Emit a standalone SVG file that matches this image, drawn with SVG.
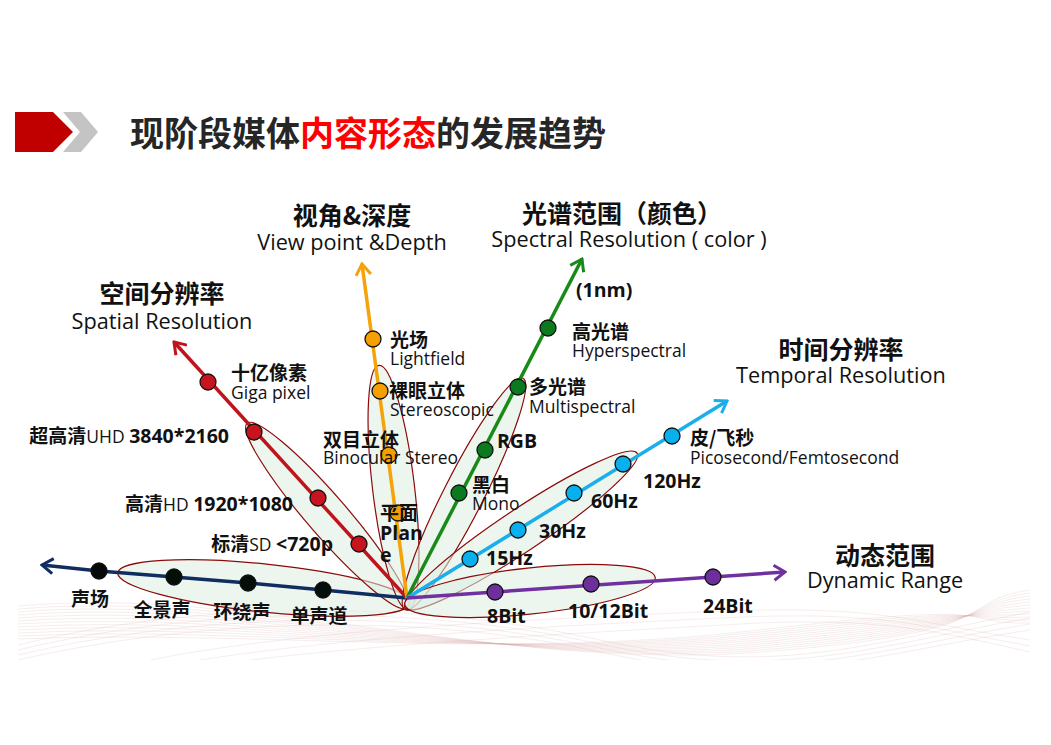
<svg xmlns="http://www.w3.org/2000/svg" width="1051" height="745" viewBox="0 0 1051 745">
<style>
.ax{fill:none;stroke-width:3.5;stroke-linecap:butt}
.ell{fill:#dcefe2;fill-opacity:0.55;stroke:#8b0a0a;stroke-width:1.2}
.pt{stroke:#111;stroke-width:1.3}
.zh{font-family:"Noto Sans CJK SC",sans-serif;font-weight:700;fill:#111}
.en{font-family:"Open Sans","Noto Sans CJK SC",sans-serif;fill:#111}
.b{font-weight:700;font-size:19.5px}
.r{font-weight:400;font-size:17.5px}
.lz{font-size:19px}
.le{font-size:17.5px}
.tz{font-size:25px}
.te{font-size:21.7px}
.wave{fill:none;stroke:#d9a3a3;stroke-width:0.5;stroke-opacity:0.4}
</style>
<defs>
<clipPath id="bgclip"><rect x="18" y="588" width="1012" height="72"/></clipPath>
<marker id="m-navy" viewBox="-14 -10 16 20" refX="0" refY="0" markerWidth="16" markerHeight="20" markerUnits="userSpaceOnUse" orient="auto"><path d="M-11,-7.5 L0,0 L-11,7.5" fill="none" stroke="#0f2d5e" stroke-width="3"/></marker>
<marker id="m-red" viewBox="-14 -10 16 20" refX="0" refY="0" markerWidth="16" markerHeight="20" markerUnits="userSpaceOnUse" orient="auto"><path d="M-11,-7.5 L0,0 L-11,7.5" fill="none" stroke="#c0141c" stroke-width="3"/></marker>
<marker id="m-orange" viewBox="-14 -10 16 20" refX="0" refY="0" markerWidth="16" markerHeight="20" markerUnits="userSpaceOnUse" orient="auto"><path d="M-11,-7.5 L0,0 L-11,7.5" fill="none" stroke="#f5a30a" stroke-width="3"/></marker>
<marker id="m-green" viewBox="-14 -10 16 20" refX="0" refY="0" markerWidth="16" markerHeight="20" markerUnits="userSpaceOnUse" orient="auto"><path d="M-11,-7.5 L0,0 L-11,7.5" fill="none" stroke="#188a18" stroke-width="3"/></marker>
<marker id="m-cyan" viewBox="-14 -10 16 20" refX="0" refY="0" markerWidth="16" markerHeight="20" markerUnits="userSpaceOnUse" orient="auto"><path d="M-11,-7.5 L0,0 L-11,7.5" fill="none" stroke="#1aaeea" stroke-width="3"/></marker>
<marker id="m-purple" viewBox="-14 -10 16 20" refX="0" refY="0" markerWidth="16" markerHeight="20" markerUnits="userSpaceOnUse" orient="auto"><path d="M-11,-7.5 L0,0 L-11,7.5" fill="none" stroke="#7030a0" stroke-width="3"/></marker>
</defs>
<rect width="1051" height="745" fill="#ffffff"/>

<!-- background waves -->
<g id="background" clip-path="url(#bgclip)">
<path class="wave" d="M18,606 C250,585 500,672 760,652 S950,602 1030,590"/>
<path class="wave" d="M18,609 C250,589 500,671 760,650 S950,604 1030,593"/>
<path class="wave" d="M18,612 C250,593 500,670 760,648 S950,606 1030,596"/>
<path class="wave" d="M18,615 C250,597 500,669 760,646 S950,608 1030,599"/>
<path class="wave" d="M18,618 C250,601 500,668 760,644 S950,610 1030,602"/>
<path class="wave" d="M18,621 C250,605 500,667 760,642 S950,612 1030,605"/>
<path class="wave" d="M18,624 C250,609 500,666 760,640 S950,614 1030,608"/>
<path class="wave" d="M18,627 C250,613 500,665 760,638 S950,616 1030,611"/>
<path class="wave" d="M18,630 C250,617 500,664 760,636 S950,618 1030,614"/>
<path class="wave" d="M18,633 C250,621 500,663 760,634 S950,620 1030,617"/>
<path class="wave" d="M18,636 C250,625 500,662 760,632 S950,622 1030,620"/>
<path class="wave" d="M18,639 C250,629 500,661 760,630 S950,624 1030,623"/>
<path class="wave" d="M18,645 C200,600 420,600 600,640 S880,640 1030,612"/>
<path class="wave" d="M18,650 C200,606 420,604 600,644 S880,644 1030,618"/>
<path class="wave" d="M18,655 C200,612 420,608 600,648 S880,648 1030,624"/>
<path class="wave" d="M18,660 C200,618 420,612 600,652 S880,652 1030,630"/>
<path class="wave" d="M150,660 C300,630 520,620 700,612 S900,620 1030,640"/>
<path class="wave" d="M200,660 C350,636 560,626 720,618 S920,626 1030,646"/>
<path class="wave" d="M250,660 C400,642 600,632 740,624 S940,632 1030,652"/>
</g>

<!-- title -->
<g id="title">
<polygon points="63,112 81,112 98,132 81,152 63,152 80,132" fill="#c4c4c4"/>
<polygon points="15,112 53,112 73,132 53,152 15,152" fill="#c00000"/>
<text x="130" y="146" font-family="Noto Sans CJK SC,sans-serif" font-weight="700" font-size="34" fill="#262626">现阶段媒体<tspan fill="#ff0000">内容形态</tspan>的发展趋势</text>
</g>

<!-- ellipses -->
<g id="clusters">
<ellipse class="ell" cx="264" cy="588" rx="147" ry="24" transform="rotate(5.9 264 588)"/>
<ellipse class="ell" cx="327" cy="515.5" rx="122" ry="20" transform="rotate(49.1 327 515.5)"/>
<ellipse class="ell" cx="393.5" cy="487.5" rx="123" ry="21" transform="rotate(83.2 393.5 487.5)"/>
<ellipse class="ell" cx="464" cy="494" rx="130" ry="20" transform="rotate(-63 464 494)"/>
<ellipse class="ell" cx="521" cy="530.5" rx="139.5" ry="21" transform="rotate(-33.7 521 530.5)"/>
<ellipse class="ell" cx="530" cy="591" rx="126" ry="23" transform="rotate(-6.1 530 591)"/>
</g>

<!-- axes -->
<g id="connectors">
<polyline class="ax" stroke="#0f2d5e" points="407,598 323,590 248,583 174,577 99,571 42,565" marker-end="url(#m-navy)"/>
<line class="ax" stroke="#c0141c" x1="407" y1="598" x2="174" y2="342" marker-end="url(#m-red)"/>
<line class="ax" stroke="#f5a30a" x1="407" y1="598" x2="362" y2="264" marker-end="url(#m-orange)"/>
<line class="ax" stroke="#188a18" x1="407" y1="598" x2="582" y2="259" marker-end="url(#m-green)"/>
<line class="ax" stroke="#1aaeea" x1="407" y1="598" x2="727" y2="401" marker-end="url(#m-cyan)"/>
<line class="ax" stroke="#7030a0" x1="407" y1="598" x2="785" y2="572" marker-end="url(#m-purple)"/>
</g>

<!-- axis titles -->
<g id="axis-spatial">
<text class="zh tz" x="162" y="303" text-anchor="middle">空间分辨率</text>
<text class="en te" x="162" y="329" text-anchor="middle">Spatial Resolution</text>
</g>
<g id="axis-viewpoint">
<text class="zh tz" x="352" y="225" text-anchor="middle">视角&amp;深度</text>
<text class="en te" x="352" y="250" text-anchor="middle">View point &amp;Depth</text>
</g>
<g id="axis-spectral">
<text class="zh tz" x="522" y="223" textLength="200" lengthAdjust="spacing">光谱范围（颜色）</text>
<text class="en te" x="629" y="247" text-anchor="middle">Spectral Resolution ( color )</text>
</g>
<g id="axis-temporal">
<text class="zh tz" x="841" y="359" text-anchor="middle">时间分辨率</text>
<text class="en te" x="841" y="383" text-anchor="middle">Temporal Resolution</text>
</g>
<g id="axis-dynamic">
<text class="zh tz" x="885" y="565" text-anchor="middle">动态范围</text>
<text class="en te" x="885" y="588" text-anchor="middle">Dynamic Range</text>
</g>

<!-- sound axis nodes -->
<g id="n-shengchang"><circle class="pt" cx="99" cy="571" r="8" fill="#050a08"/><text class="zh lz" x="90" y="606" text-anchor="middle">声场</text></g>
<g id="n-quanjingsheng"><circle class="pt" cx="174" cy="577" r="8" fill="#050f0a"/><text class="zh lz" x="162" y="617" text-anchor="middle">全景声</text></g>
<g id="n-huanraosheng"><circle class="pt" cx="248" cy="583" r="8" fill="#050f0a"/><text class="zh lz" x="242" y="619" text-anchor="middle">环绕声</text></g>
<g id="n-danshengdao"><circle class="pt" cx="323" cy="590" r="8" fill="#050f0a"/><text class="zh lz" x="319" y="623" text-anchor="middle">单声道</text></g>

<!-- spatial nodes -->
<g id="n-giga"><circle class="pt" cx="208" cy="382" r="8" fill="#c8141e"/><text class="zh lz" x="231" y="380">十亿像素</text><text class="en le" x="231" y="399">Giga pixel</text></g>
<g id="n-uhd"><circle class="pt" cx="254" cy="432" r="8" fill="#c8141e"/><text class="en le" x="229" y="443" text-anchor="end"><tspan class="zh lz">超高清</tspan><tspan class="r">UHD </tspan><tspan class="b">3840*2160</tspan></text></g>
<g id="n-hd"><circle class="pt" cx="318" cy="498" r="8" fill="#c8141e"/><text class="en le" x="293" y="511" text-anchor="end"><tspan class="zh lz">高清</tspan><tspan class="r">HD </tspan><tspan class="b">1920*1080</tspan></text></g>
<g id="n-sd"><circle class="pt" cx="359" cy="544" r="8" fill="#c8141e"/><text class="en le" x="333" y="551" text-anchor="end"><tspan class="zh lz">标清</tspan><tspan class="r">SD </tspan><tspan class="b">&lt;720p</tspan></text></g>

<!-- viewpoint nodes -->
<g id="n-lightfield"><circle class="pt" cx="373" cy="339" r="8" fill="#f5a000"/><text class="zh lz" x="390" y="347">光场</text><text class="en le" x="390" y="365">Lightfield</text></g>
<g id="n-stereoscopic"><circle class="pt" cx="380" cy="391" r="8" fill="#f5a000"/><text class="zh lz" x="389" y="398">裸眼立体</text><text class="en le" x="390" y="416">Stereoscopic</text></g>
<g id="n-binocular"><circle class="pt" cx="389" cy="455" r="8" fill="#f5a000"/><text class="zh lz" x="323" y="447">双目立体</text><text class="en le" x="323" y="464">Binocular Stereo</text></g>
<g id="n-plane"><circle class="pt" cx="398" cy="513" r="8" fill="#f5a000"/><text class="zh lz" x="380" y="520">平面</text><text class="en b" x="380" y="540">Plan</text><text class="en b" x="380" y="562">e</text></g>

<!-- spectral nodes -->
<g id="n-1nm"><text class="en b" x="576" y="297" fill="#111128">(1nm)</text></g>
<g id="n-hyper"><circle class="pt" cx="548" cy="328" r="8" fill="#0b7a1e"/><text class="zh lz" x="572" y="339">高光谱</text><text class="en le" x="572" y="357">Hyperspectral</text></g>
<g id="n-multi"><circle class="pt" cx="518" cy="387" r="8" fill="#0b7a1e"/><text class="zh lz" x="529" y="394">多光谱</text><text class="en le" x="529" y="413">Multispectral</text></g>
<g id="n-rgb"><circle class="pt" cx="485" cy="450" r="8" fill="#0b7a1e"/><text class="en b" x="497" y="448">RGB</text></g>
<g id="n-mono"><circle class="pt" cx="459" cy="493" r="8" fill="#0b7a1e"/><text class="zh lz" x="472" y="492">黑白</text><text class="en le" x="472" y="510">Mono</text></g>

<!-- temporal nodes -->
<g id="n-15hz"><circle class="pt" cx="470" cy="559" r="8" fill="#09b0ee"/><text class="en b" x="486" y="565">15Hz</text></g>
<g id="n-30hz"><circle class="pt" cx="518" cy="530" r="8" fill="#09b0ee"/><text class="en b" x="539" y="538">30Hz</text></g>
<g id="n-60hz"><circle class="pt" cx="574" cy="493" r="8" fill="#09b0ee"/><text class="en b" x="591" y="508">60Hz</text></g>
<g id="n-120hz"><circle class="pt" cx="623" cy="464" r="8" fill="#09b0ee"/><text class="en b" x="643" y="488">120Hz</text></g>
<g id="n-pico"><circle class="pt" cx="672" cy="436" r="8" fill="#09b0ee"/><text class="zh lz" x="690" y="445">皮/飞秒</text><text class="en le" x="690" y="464">Picosecond/Femtosecond</text></g>

<!-- dynamic range nodes -->
<g id="n-8bit"><circle class="pt" cx="495" cy="592" r="8" fill="#6c2f9c"/><text class="en b" x="487" y="623">8Bit</text></g>
<g id="n-1012bit"><circle class="pt" cx="591" cy="584" r="8" fill="#6c2f9c"/><text class="en b" x="568" y="618">10/12Bit</text></g>
<g id="n-24bit"><circle class="pt" cx="713" cy="577" r="8" fill="#6c2f9c"/><text class="en b" x="703" y="613">24Bit</text></g>
</svg>
